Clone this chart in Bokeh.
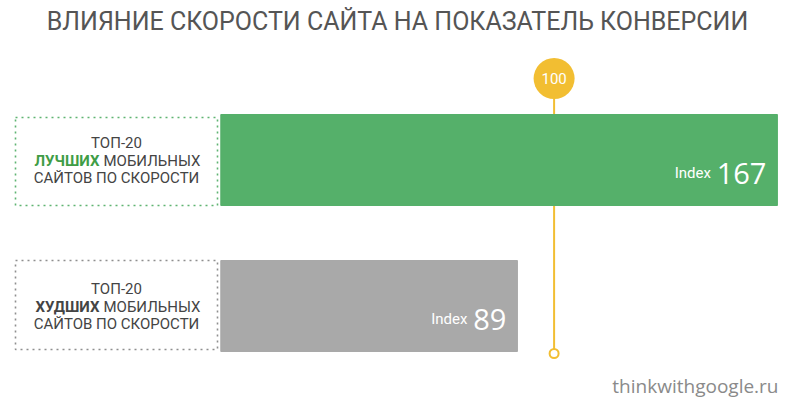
from bokeh.plotting import figure
from bokeh.models import Range1d, ColumnDataSource
from bokeh.core.properties import value
from bokeh.embed import file_html
from bokeh.resources import INLINE

# ---- data ----
title_text = "ВЛИЯНИЕ СКОРОСТИ САЙТА НА ПОКАЗАТЕЛЬ КОНВЕРСИИ"
label_top = ["ТОП-20", "ТОП-20"]
label_key = ["ЛУЧШИХ", "ХУДШИХ"]
label_rest = ["МОБИЛЬНЫХ", "МОБИЛЬНЫХ"]
label_bottom = ["САЙТОВ ПО СКОРОСТИ", "САЙТОВ ПО СКОРОСТИ"]
values = [167, 89]
reference = 100
source_text = "thinkwithgoogle.ru"

bar_colors = ["#55b06a", "#a9a9a9"]
key_colors = ["#3f9d46", "#444444"]
box_colors = ["#5fb472", "#8f8f8f"]
YELLOW = "#f2be32"

# ---- layout (screen pixel geometry of the page) ----
OFF = 0                         # page offset of the figure
W, H = 796, 398
X0, XS = 220.3, 3.333          # screen x of value 0, pixels per unit
ROW0, ROWSTEP = 159.5, 146.0   # screen y of first row centre, row spacing


def sx(px):
    return (px - X0) / XS


def sy(py):
    return (py - ROW0) / ROWSTEP


p = figure(width=W, height=H, output_backend="svg", toolbar_location=None,
           x_range=Range1d(sx(OFF), sx(OFF + W)),
           y_range=Range1d(sy(OFF + H), sy(OFF)),
           min_border=0, outline_line_color=None)
p.axis.visible = False
p.grid.visible = False
p.background_fill_color = "white"
p.border_fill_color = "white"

rows = list(range(len(values)))
src = ColumnDataSource(dict(
    y=rows, v=values, color=bar_colors,
    num=[str(v) for v in values],
    idx_off=[-17 - 16.5 * len(str(v)) for v in values],
    top=label_top, key=label_key, rest=label_rest, bottom=label_bottom,
    keycol=key_colors, boxcol=box_colors,
))

# reference line (under bars)
p.segment(x0=[reference], y0=[sy(98)], x1=[reference], y1=[sy(349)],
          line_color=YELLOW, line_width=2)
p.scatter(x=[reference], y=[sy(353)], size=9, marker="circle",
          fill_color="white", line_color=YELLOW, line_width=2)

# bars
p.hbar(y="y", left=0, right="v", height=91 / ROWSTEP, color="color",
       source=src)

# reference marker on top
p.scatter(x=[reference], y=[sy(78)], size=41, marker="circle",
          fill_color=YELLOW, line_color=None)
p.text(x=[reference], y=[sy(78)], text=[str(reference)], text_color="white",
       text_font=value("Roboto"), text_font_size="15px",
       text_align="center", text_baseline="middle")

# value labels
p.text(x="v", y="y", text="num", x_offset=-11, y_offset=13, source=src,
       text_color="white", text_font=value("Open Sans"), text_font_size="29px",
       text_align="right", text_baseline="alphabetic")
p.text(x="v", y="y", text=value("Index"), x_offset="idx_off", y_offset=13,
       source=src, text_color="white", text_font=value("Roboto"),
       text_font_size="15px", text_align="right", text_baseline="alphabetic")

# dotted boxes for group labels
p.quad(left=sx(15), right=sx(217), top=[sy(117), sy(260)],
       bottom=[sy(205), sy(349)], fill_color=None, line_color=box_colors,
       line_dash="2 4", line_width=1.6)

# group labels
cx = sx(116)
p.text(x=cx, y="y", text="top", y_offset=-17, source=src,
       text_color="#444444", text_font=value("Roboto"), text_font_size="15px",
       text_align="center", text_baseline="middle")
p.text(x=sx(101), y="y", text="key", x_offset=-2, y_offset=1, source=src,
       text_color="keycol", text_font=value("Roboto"), text_font_style="bold",
       text_font_size="15px", text_align="right", text_baseline="middle")
p.text(x=sx(101), y="y", text="rest", x_offset=2, y_offset=1, source=src,
       text_color="#444444", text_font=value("Roboto"), text_font_size="15px",
       text_align="left", text_baseline="middle")
p.text(x=cx, y="y", text="bottom", y_offset=18, source=src,
       text_color="#444444", text_font=value("Roboto"), text_font_size="15px",
       text_align="center", text_baseline="middle")

# title
p.text(x=[sx(397)], y=[sy(21)], text=[title_text], text_color="#555555",
       text_font=value("Roboto"),
       text_font_size="25px", text_align="center", text_baseline="middle")

# source
p.text(x=[sx(778)], y=[sy(385)], text=[source_text], text_color="#8a8a8a",
       text_font=value("Open Sans"), text_font_size="19px",
       text_align="right", text_baseline="alphabetic")

open("out.html", "w").write(file_html(p, INLINE))
